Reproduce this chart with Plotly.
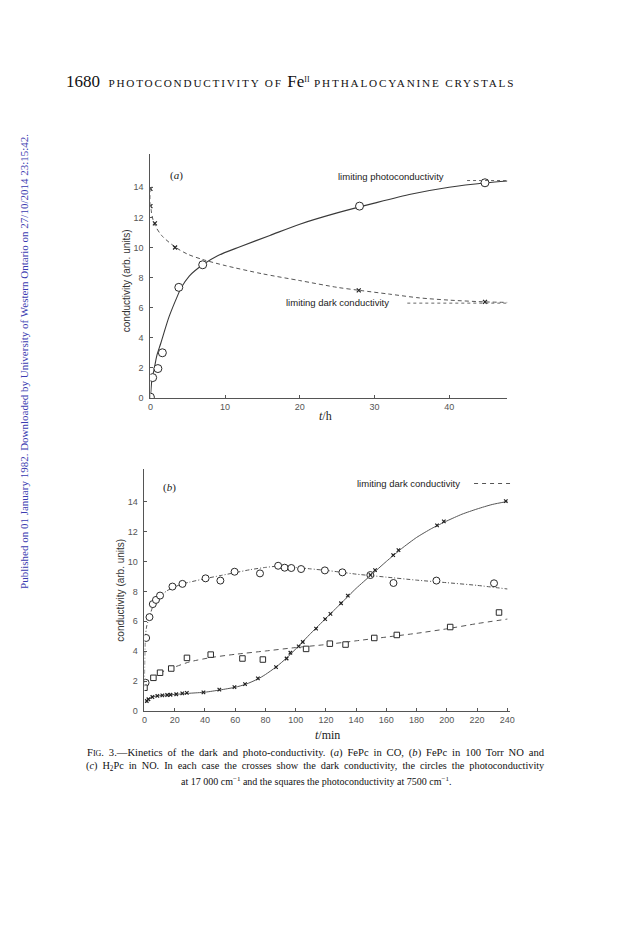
import plotly.graph_objects as go

# ---------------- Panel (a): FePc in CO, time in hours ----------------
photo_a_t = [0.0, 0.3, 1.0, 1.6, 3.8, 7.0, 28.0, 44.8]
photo_a_y = [0.05, 1.35, 1.95, 3.0, 7.35, 8.85, 12.75, 14.3]
photo_a_curve_t = [0, 0.2, 0.5, 0.85, 1.4, 2.5, 3.6, 4.1, 5.2, 7.0, 9.0, 12, 16, 20, 25, 30, 35, 40, 45, 47.8]
photo_a_curve_y = [0, 1.2, 1.9, 2.8, 3.65, 5.4, 6.75, 7.3, 8.1, 8.85, 9.45, 10.05, 10.8, 11.55, 12.3, 12.95, 13.55, 14.0, 14.3, 14.42]

dark_a_t = [0.0, 0.0, 0.6, 3.3, 27.9, 44.8]
dark_a_y = [13.9, 12.75, 11.6, 10.0, 7.15, 6.38]
dark_a_curve_t = [0, 0, 0.5, 1.5, 3.4, 5, 7, 10, 15, 20, 25, 28, 32, 36, 40, 45, 47.8]
dark_a_curve_y = [13.95, 12.8, 11.6, 10.8, 10.0, 9.55, 9.2, 8.8, 8.25, 7.8, 7.35, 7.15, 6.9, 6.65, 6.5, 6.38, 6.35]

# ---------------- Panel (b): FePc in 100 Torr NO, time in minutes ----------------
circ_b_t = [0.7, 1.1, 3.3, 5.5, 7.6, 10.3, 18.5, 25.1, 40.4, 50.2, 59.6, 76.4, 88.4, 92.7, 97.1, 103.6, 119.3, 130.9, 149.4, 164.7, 193.1, 231.2]
circ_b_y = [1.9, 4.89, 6.28, 7.15, 7.43, 7.72, 8.32, 8.5, 8.87, 8.72, 9.31, 9.2, 9.71, 9.58, 9.56, 9.49, 9.4, 9.27, 9.09, 8.56, 8.72, 8.54]
circ_b_curve_t = [0, 0.5, 1.5, 3.3, 5.5, 8, 10.5, 15, 20, 25, 30, 40, 50, 60, 70, 80, 88, 95, 100, 110, 120, 130, 140, 150, 160, 180, 200, 220, 240]
circ_b_curve_y = [1.9, 4.9, 5.7, 6.3, 7.0, 7.45, 7.7, 8.05, 8.3, 8.5, 8.62, 8.85, 9.05, 9.25, 9.45, 9.6, 9.68, 9.65, 9.6, 9.5, 9.4, 9.28, 9.15, 9.05, 8.95, 8.75, 8.58, 8.4, 8.16]

sq_b_t = [0.0, 5.9, 10.3, 17.7, 28.1, 43.8, 64.8, 78.3, 106.9, 122.6, 133.0, 152.0, 166.9, 202.2, 234.5]
sq_b_y = [1.57, 2.23, 2.57, 2.85, 3.56, 3.78, 3.52, 3.45, 4.16, 4.51, 4.45, 4.89, 5.09, 5.62, 6.59]
sq_b_curve_t = [0, 5, 10, 20, 30, 45, 60, 80, 100, 120, 140, 160, 180, 200, 220, 240]
sq_b_curve_y = [1.9, 2.2, 2.55, 2.95, 3.3, 3.6, 3.8, 4.02, 4.25, 4.45, 4.7, 4.95, 5.2, 5.5, 5.85, 6.15]

dark_b_t = [1.5, 2.6, 5.2, 8.5, 11.8, 15, 17.2, 21, 25, 28, 39, 49.5, 59.5, 66.5, 75, 87, 94, 96.5, 102, 104.7, 113.5, 119.5, 123, 130, 134.5, 149.5, 152.5, 164.5, 168, 193.5, 198, 239]
dark_b_y = [0.68, 0.8, 0.95, 1.02, 1.06, 1.08, 1.1, 1.13, 1.19, 1.22, 1.26, 1.44, 1.61, 1.81, 2.19, 2.94, 3.52, 3.9, 4.33, 4.62, 5.51, 6.15, 6.5, 7.21, 7.72, 9.09, 9.42, 10.42, 10.75, 12.41, 12.67, 14.02]
dark_b_curve_t = [0.8, 1.5, 5, 10, 15, 20, 30, 40, 50, 60, 67, 75, 80, 87, 94, 100, 110, 120, 130, 140, 150, 160, 170, 180, 190, 200, 210, 220, 230, 240]
dark_b_curve_y = [0.55, 0.68, 0.95, 1.04, 1.08, 1.12, 1.2, 1.27, 1.42, 1.6, 1.8, 2.15, 2.45, 2.95, 3.55, 4.15, 5.2, 6.2, 7.2, 8.2, 9.1, 10.0, 10.85, 11.6, 12.2, 12.7, 13.15, 13.5, 13.8, 14.0]

y_ticks = [0, 2, 4, 6, 8, 10, 12, 14]
xa_ticks = [0, 10, 20, 30, 40]
xb_ticks = [0, 20, 40, 60, 80, 100, 120, 140, 160, 180, 200, 220, 240]

W, H = 625, 936
LINE = "#3a3a3a"
SANS = "Liberation Sans"
SERIF = "Liberation Serif"

fig = go.Figure()

def curve(x, y, xa, ya, dash, width=1.0, color=LINE, smooth=0.8):
    fig.add_trace(go.Scatter(x=x, y=y, xaxis=xa, yaxis=ya, mode="lines",
                             line=dict(color=color, width=width, dash=dash, shape="spline", smoothing=smooth),
                             hoverinfo="skip", showlegend=False))

def open_marks(x, y, xa, ya, symbol, size, width=1.0):
    fig.add_trace(go.Scatter(x=x, y=y, xaxis=xa, yaxis=ya, mode="markers",
                             marker=dict(symbol=symbol, size=size, color="white",
                                         line=dict(color="#2a2a2a", width=width)),
                             showlegend=False))

def cross_marks(x, y, xa, ya, size):
    fig.add_trace(go.Scatter(x=x, y=y, xaxis=xa, yaxis=ya, mode="markers",
                             marker=dict(symbol="x-thin", size=size, color="#222",
                                         line=dict(color="#222", width=1.2)),
                             showlegend=False))

# panel a
curve(photo_a_curve_t, photo_a_curve_y, "x", "y", "solid", 1.1)
curve(dark_a_curve_t, dark_a_curve_y, "x", "y", "4px,3px", 1.0, "#555")
open_marks(photo_a_t, photo_a_y, "x", "y", "circle", 8, 1.0)
cross_marks(dark_a_t, dark_a_y, "x", "y", 4)

# panel b
curve(circ_b_curve_t, circ_b_curve_y, "x2", "y2", "4px,2px,1px,2px", 1.0, "#555", 0.6)
curve(sq_b_curve_t, sq_b_curve_y, "x2", "y2", "5px,4px", 1.0, "#555", 0.6)
curve(dark_b_curve_t, dark_b_curve_y, "x2", "y2", "solid", 1.0, "#555", 0.6)
open_marks(circ_b_t, circ_b_y, "x2", "y2", "circle", 7, 1.0)
open_marks(sq_b_t, sq_b_y, "x2", "y2", "square", 5.5, 1.0)
cross_marks(dark_b_t, dark_b_y, "x2", "y2", 3.5)

axis_common = dict(showline=True, linecolor="#555", linewidth=1, ticks="inside", ticklen=3,
                   tickcolor="#555", tickwidth=1, showgrid=False, zeroline=False,
                   tickfont=dict(family=SANS, size=9, color="#555"))

fig.update_layout(
    width=W, height=H, margin=dict(l=0, r=0, t=0, b=0),
    paper_bgcolor="white", plot_bgcolor="white",
    xaxis=dict(domain=[141 / W, 502 / W], range=[0, 47.8], tickvals=xa_ticks, anchor="y", **axis_common),
    yaxis=dict(domain=[1 - 392 / H, 1 - 147 / H], range=[0, 16.2], tickvals=y_ticks, anchor="x",
               ticklabelstandoff=4, **axis_common),
    xaxis2=dict(domain=[135 / W, 505 / W], range=[0, 242], tickvals=xb_ticks, anchor="y2", **axis_common),
    yaxis2=dict(domain=[1 - 707 / H, 1 - 463 / H], range=[0, 16.2], tickvals=y_ticks, anchor="x2",
                ticklabelstandoff=4, **axis_common),
)

# guide lines next to the labels
fig.add_shape(type="line", xref="x", yref="y", x0=42.4, x1=47.8, y0=14.45, y1=14.45,
              line=dict(color="#666", width=1, dash="dot"))
fig.add_shape(type="line", xref="x", yref="y", x0=34.4, x1=47.8, y0=6.3, y1=6.3,
              line=dict(color="#666", width=1, dash="dot"))
fig.add_shape(type="line", xref="x2", yref="y2", x0=218, x1=242, y0=15.2, y1=15.2,
              line=dict(color="#555", width=1, dash="4px,4px"))

def ann(text, x, y, size, family=SANS, color="#222", xanchor="center", yanchor="middle", angle=0):
    fig.add_annotation(text=text, x=x / W, y=1 - y / H, xref="paper", yref="paper", showarrow=False,
                       font=dict(family=family, size=size, color=color), xanchor=xanchor, yanchor=yanchor,
                       textangle=angle)

# header
ann('<span style="font-size:17px">1680</span>&nbsp;&nbsp;&nbsp;'
    '<span style="letter-spacing:1.8px">PHOTOCONDUCTIVITY OF </span>'
    '<span style="font-size:17px">Fe</span><sup>II</sup>'
    '<span style="letter-spacing:1.8px"> PHTHALOCYANINE CRYSTALS</span>',
    283, 74, 11.2, SERIF, "#111")

# side watermark
ann("Published on 01 January 1982. Downloaded by University of Western Ontario on 27/10/2014 23:15:42.",
    13, 355, 11, SERIF, "#3b3bb0", angle=-90)

# panel a texts
ann("(<i>a</i>)", 167, 168, 11, SERIF)
ann("limiting photoconductivity", 384, 169, 9.5, SANS, "#222")
ann("limiting dark conductivity", 330, 296, 9.5, SANS, "#222")
ann("conductivity (arb. units)", 117, 274, 10, SANS, "#333", angle=-90)
ann("<i>t</i>/h", 318, 410, 12, SERIF, "#222")

# panel b texts
ann("(<i>b</i>)", 160, 482, 11, SERIF)
ann("limiting dark conductivity", 402, 478, 9.5, SANS, "#222")
ann("conductivity (arb. units)", 111, 585, 10, SANS, "#333", angle=-90)
ann("<i>t</i>/min", 320, 731, 12, SERIF, "#222")

# caption (first two lines justified by widening the word gaps)
ann('<span style="word-spacing:2.2px">F<span style="font-size:8px">IG</span>. 3.—Kinetics of the dark and photo-conductivity. (<i>a</i>) FePc in CO, (<i>b</i>) FePc in 100 Torr NO and</span>',
    308, 749, 10.6, SERIF, "#111")
ann('<span style="word-spacing:2.4px">(<i>c</i>) H<sub>2</sub>Pc in NO. In each case the crosses show the dark conductivity, the circles the photoconductivity</span>',
    308, 763, 10.3, SERIF, "#111")
ann('at 17 000 cm<sup>−1</sup> and the squares the photoconductivity at 7500 cm<sup>−1</sup>.',
    308, 777, 10, SERIF, "#111")

fig.write_html("out.html")
